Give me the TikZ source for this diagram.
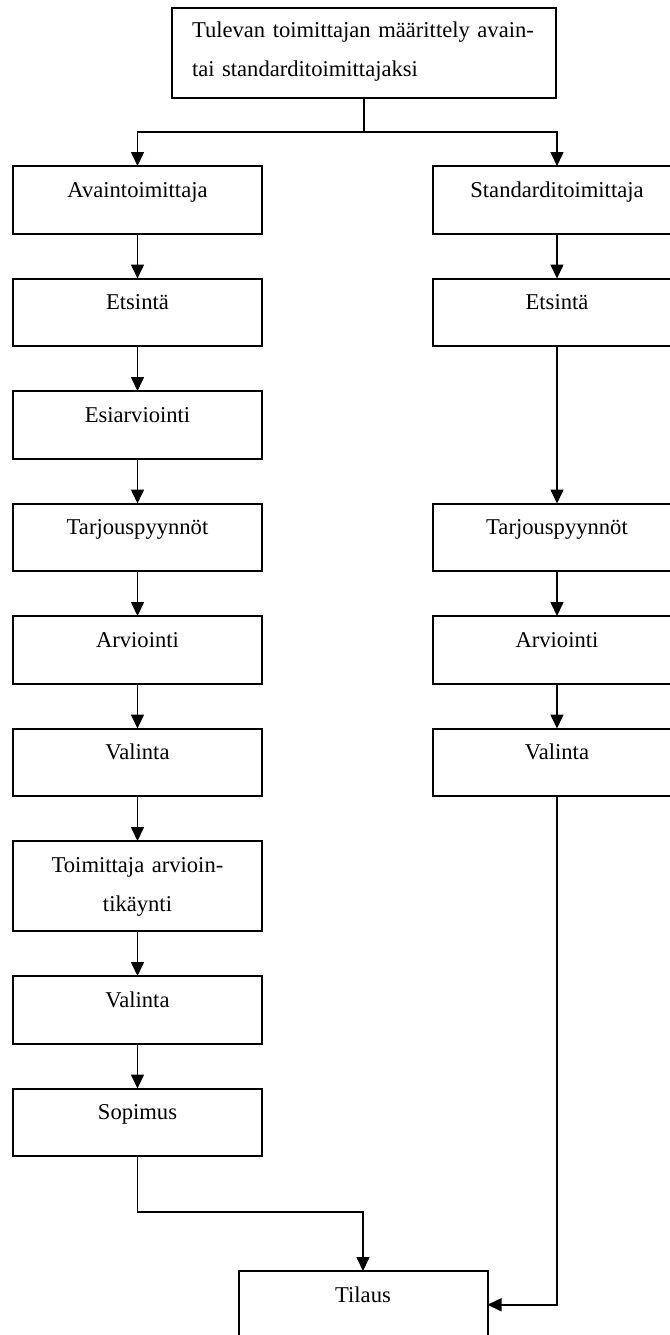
\documentclass[tikz,border=0pt]{standalone}
\usepackage{fontspec}
\setmainfont{Liberation Serif}
\usetikzlibrary{arrows.meta,calc,positioning}
\tikzset{stage/.style={draw,line width=1pt,minimum width=124.5pt,text width=124.5pt,inner sep=0pt,outer sep=0pt,align=center,text height=15.5pt,text depth=18.25pt,font=\fontsize{11.3}{19.5}\selectfont},tallstage/.style={stage,text depth=29.5pt},flow/.style={-{Triangle[length=7pt,width=6.5pt]},line width=.8pt}}

\begin{document}
\begin{tikzpicture}[x=.5pt,y=-.5pt]
        \useasboundingbox (0,0) rectangle (670,1335);
        \clip (0,0) rectangle (670,1335);
        \node[stage,anchor=north,text width=172pt,inner xsep=10pt,align=left,text height=14.5pt,text depth=30.5pt] (define) at (364,8){Tulevan toimittajan määrittely avain-\\tai standarditoimittajaksi};
        % avaintoimittaja
        \node[stage,anchor=north] (avain) at (137.5,166){Avaintoimittaja};
        \node[stage,below=22.5pt of avain] (etsA){Etsintä};
        \node[stage,below=22.5pt of etsA] (esi){Esiarviointi};
        \node[stage,below=22.5pt of esi] (tarjA){Tarjouspyynnöt};
        \node[stage,below=22.5pt of tarjA] (arvA){Arviointi};
        \node[stage,below=22.5pt of arvA] (valA){Valinta};
        \node[tallstage,below=22.5pt of valA] (kaynti){Toimittaja arvioin-\\tikäynti};
        \node[stage,below=22.5pt of kaynti] (valA2){Valinta};
        \node[stage,below=22.5pt of valA2] (sopimus){Sopimus};
        % standarditoimittaja
        \node[stage,anchor=north] (standard) at (557,166){Standarditoimittaja};
        \node[stage,below=22.5pt of standard] (etsB){Etsintä};
        \node[stage,anchor=north] (tarjB) at (standard.north |- tarjA.north){Tarjouspyynnöt};
        \node[stage,below=22.5pt of tarjB] (arvB){Arviointi};
        \node[stage,below=22.5pt of arvB] (valB){Valinta};
        \node[stage,anchor=north] (tilaus) at (363,1271){Tilaus};
        % connectors
        \coordinate (split) at ($(define.south)+(0,34)$);
        \draw[flow] (define.south) -- (split) -| (avain.north);
        \draw[flow] (split) -| (standard.north);
        \foreach \a/\b in {avain/etsA,etsA/esi,esi/tarjA,tarjA/arvA,arvA/valA,valA/kaynti,kaynti/valA2,valA2/sopimus,standard/etsB,etsB/tarjB,tarjB/arvB,arvB/valB}
          \draw[flow] (\a) -- (\b);
        \draw[flow] (sopimus.south) -- ++(0,56) -| (tilaus.north);
        \draw[flow] (valB.south) |- (tilaus.east);
      \end{tikzpicture}
\end{document}
